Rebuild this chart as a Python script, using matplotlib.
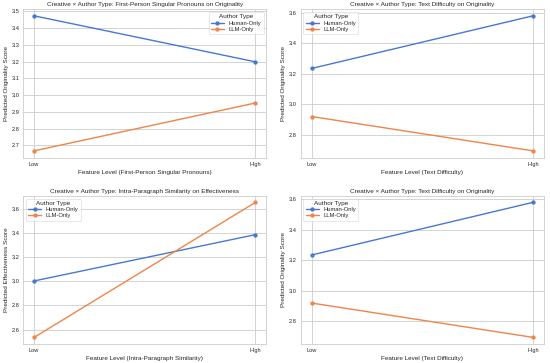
import matplotlib
matplotlib.use("Agg")
import matplotlib.pyplot as plt
import seaborn as sns

levels = ["Low", "High"]
authors = ["Human-Only", "LLM-Only"]

p1_human = [3.472, 3.198]
p1_llm = [2.668, 2.953]
p2_human = [3.235, 3.580]
p2_llm = [2.920, 2.695]
p3_human = [3.002, 3.385]
p3_llm = [2.535, 3.652]
p4_human = [3.235, 3.580]
p4_llm = [2.920, 2.695]

titles = [
    "Creative × Author Type: First-Person Singular Pronouns on Originality",
    "Creative × Author Type: Text Difficulty on Originality",
    "Creative × Author Type: Intra-Paragraph Similarity on Effectiveness",
    "Creative × Author Type: Text Difficulty on Originality",
]
xlabels = [
    "Feature Level (First-Person Singular Pronouns)",
    "Feature Level (Text Difficulty)",
    "Feature Level (Intra-Paragraph Similarity)",
    "Feature Level (Text Difficulty)",
]
ylabels = [
    "Predicted Originality Score",
    "Predicted Originality Score",
    "Predicted Effectiveness Score",
    "Predicted Originality Score",
]
legend_locs = ["upper right", "upper left", "upper left", "upper left"]

sns.set_theme(style="whitegrid")
plt.rcParams["font.family"] = ["Liberation Sans", "DejaVu Sans"]
colors = sns.color_palette("muted")

fig, axes = plt.subplots(2, 2, figsize=(5.5, 3.63), dpi=100)
fig.subplots_adjust(left=0.042, right=0.989, top=0.975, bottom=0.052, wspace=0.14, hspace=0.256)
data = [(p1_human, p1_llm), (p2_human, p2_llm), (p3_human, p3_llm), (p4_human, p4_llm)]
fs = 4.6

for i, ax in enumerate(axes.flat):
    human, llm = data[i]
    ax.plot(levels, human, marker="o", markersize=2.1, lw=1.0, color=colors[0], label=authors[0])
    ax.plot(levels, llm, marker="o", markersize=2.1, lw=1.0, color=colors[1], label=authors[1])
    ax.set_title(titles[i], fontsize=fs, pad=2)
    ax.set_xlabel(xlabels[i], fontsize=fs, labelpad=2)
    ax.set_ylabel(ylabels[i], fontsize=fs, labelpad=2)
    ax.tick_params(axis="x", labelsize=4.1, pad=3, length=0)
    ax.tick_params(axis="y", labelsize=4.1, pad=2.5, length=0)
    for s in ax.spines.values():
        s.set_linewidth(0.6)
    ax.grid(lw=0.6)
    leg = ax.legend(title="Author Type", loc=legend_locs[i], fontsize=4.2,
                    title_fontsize=fs, handlelength=2.2, borderpad=0.4, labelspacing=0.2,
                    frameon=True)
    leg.get_frame().set_linewidth(0.4)

fig.savefig("out.png", dpi=100)
